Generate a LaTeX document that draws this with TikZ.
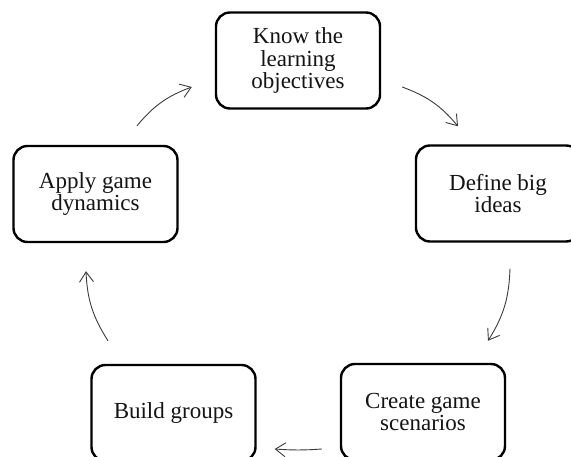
\documentclass[tikz,border=0pt]{standalone}
\usepackage{fontspec}
\setmainfont{Liberation Serif}
\usetikzlibrary{arrows.meta}

\definecolor{cycleStroke}{RGB}{0,0,0}
\definecolor{cycleArrow}{RGB}{60,60,60}
\definecolor{cycleText}{RGB}{20,20,20}

\begin{document}
\begin{tikzpicture}[x=1pt,y=-1pt,
      stage/.style={draw=cycleStroke, line width=2.4pt, rounded corners=14pt,
        minimum width=164pt, minimum height=96pt, inner sep=0pt, align=center,
        text=cycleText, font=\fontsize{23}{22.5}\selectfont},
      flow/.style={draw=cycleArrow, line width=.9pt,
        -{Straight Barb[length=10pt,width=14pt,line width=.9pt]}}]
      \useasboundingbox (0,0) rectangle (571,457);
      \clip (0,0) rectangle (571,457);
      \fill[white] (0,0) rectangle (571,457);

      \node[stage] (know) at (298,60.5) {Know the\\learning\\objectives};
      \node[stage] (define) at (498,193.5) {Define big\\ideas};
      \node[stage] (create) at (423,412) {Create game\\scenarios};
      \node[stage] (build) at (173.5,413) {Build groups};
      \node[stage] (apply) at (95.5,194) {Apply game\\dynamics};

      \draw[flow] ([shift={(21,26.5)}]know.east)
        to[bend left=15] ([shift={(-40,-18)}]define.north);
      \draw[flow] ([shift={(12,26)}]define.south)
        to[bend left=15] ([shift={(65,-22)}]create.north);
      \draw[flow] ([shift={(-18,37)}]create.west)
        to[bend left=4] ([shift={(18,36)}]build.east);
      \draw[flow] ([shift={(-65.5,-23)}]build.north)
        to[bend left=15] ([shift={(-9.5,28)}]apply.south);
      \draw[flow] ([shift={(41.5,-19)}]apply.north)
        to[bend left=15] ([shift={(-23,26.5)}]know.west);
    \end{tikzpicture}
\end{document}
